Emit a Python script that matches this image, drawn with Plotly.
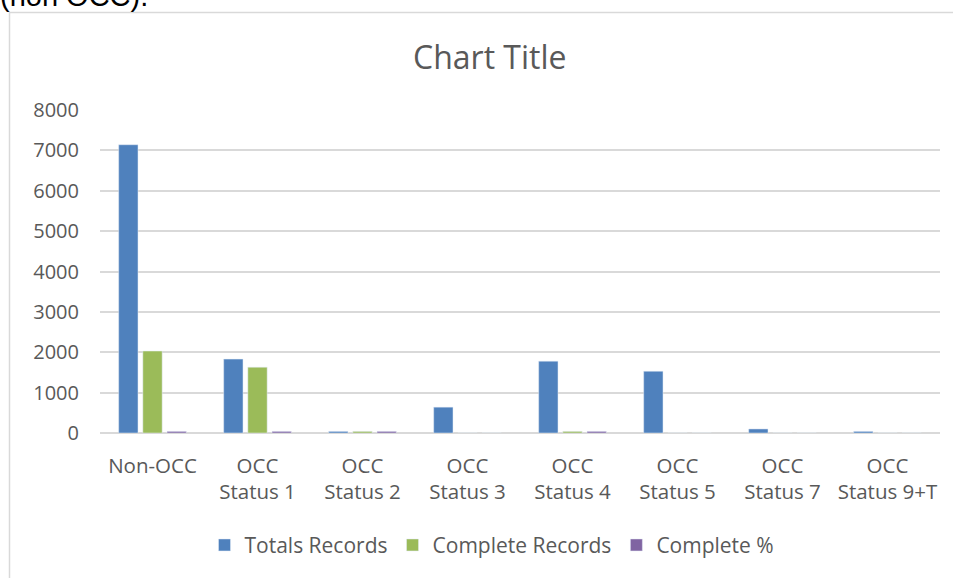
import plotly.graph_objects as go

categories = ["Non-OCC", "OCC<br>Status 1", "OCC<br>Status 2", "OCC<br>Status 3",
              "OCC<br>Status 4", "OCC<br>Status 5", "OCC<br>Status 7", "OCC<br>Status 9+T"]
totals_records = [7140, 1830, 40, 640, 1780, 1530, 100, 40]
complete_records = [2030, 1630, 40, 0, 40, 0, 0, 0]
complete_pct = [40, 40, 40, 0, 40, 0, 0, 0]
y_ticks = [0, 1000, 2000, 3000, 4000, 5000, 6000, 7000, 8000]

FONT = "'Open Sans', sans-serif"
GRAY = "#595959"

fig = go.Figure()
fig.add_bar(name="Totals Records", x=categories, y=totals_records, marker_color="#4f81bd")
fig.add_bar(name="Complete Records", x=categories, y=complete_records, marker_color="#9bbb59")
fig.add_bar(name="Complete %", x=categories, y=complete_pct, marker_color="#8064a2")

L, R, T, B = 100, 13, 110, 143
W, H = 953, 578
pw, ph = W - L - R, H - T - B

def px(x):
    return (x - L) / pw

def py(y):
    return (H - B - y) / ph

fig.update_layout(
    width=W, height=H,
    margin=dict(l=L, r=R, t=T, b=B),
    paper_bgcolor="white", plot_bgcolor="white",
    barmode="group", bargap=0.31, bargroupgap=0.2,
    font=dict(family=FONT, size=20, color=GRAY),
    showlegend=True,
    legend=dict(orientation="h", x=px(492), xanchor="center", y=py(548), yanchor="middle",
                font=dict(family=FONT, size=21, color=GRAY), itemwidth=30,
                traceorder="normal"),
    xaxis=dict(showgrid=False, showline=False, ticks="", tickfont=dict(size=20.5, color=GRAY),
               ticklabelstandoff=18),
    yaxis=dict(range=[0, 8000], tickvals=y_ticks, showgrid=True, gridcolor="#d9d9d9",
               gridwidth=1.5, zeroline=True, zerolinecolor="#d9d9d9", zerolinewidth=2,
               ticks="", tickfont=dict(size=20, color=GRAY), ticklabelstandoff=20),
    annotations=[
        dict(text="Chart Title", xref="paper", yref="paper", x=px(490), y=py(56),
             xanchor="center", yanchor="middle", showarrow=False,
             font=dict(family=FONT, size=32, color=GRAY)),
        dict(text="(non OCC).", xref="paper", yref="paper", x=px(-2), y=py(13),
             xanchor="left", yanchor="bottom", showarrow=False,
             font=dict(family="Liberation Sans, Arial, sans-serif", size=29, color="#000000")),
    ],
    shapes=[
        dict(type="rect", xref="paper", yref="paper", x0=px(9.5), x1=px(970),
             y0=py(590), y1=py(12), line=dict(color="#d9d9d9", width=1.5), layer="below"),
    ],
)

fig.write_html("out.html", config={"displayModeBar": False},
               post_script="document.body.style.margin='0';document.body.style.overflow='hidden';")
